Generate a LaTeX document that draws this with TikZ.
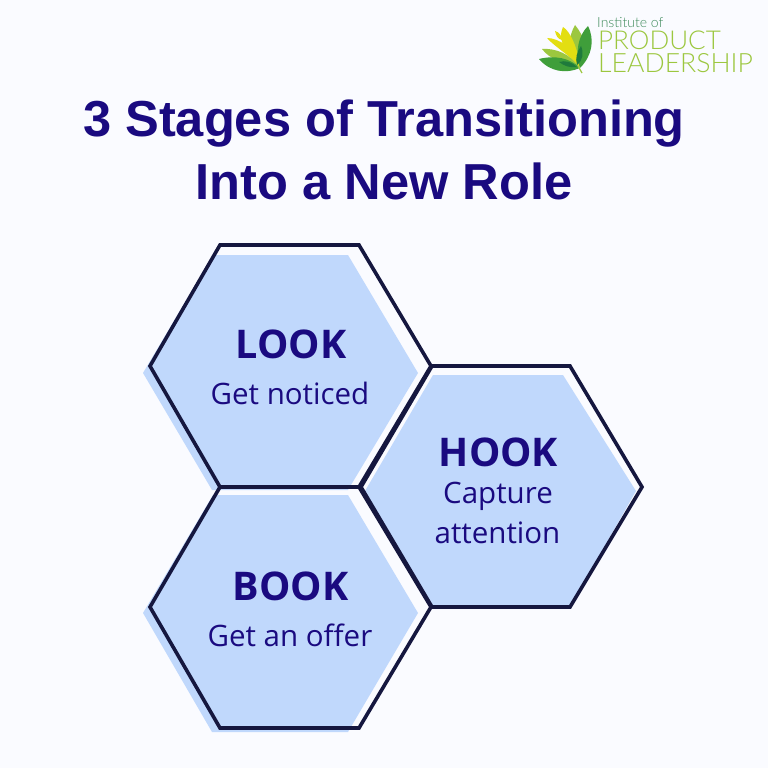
\documentclass[tikz,border=0pt]{standalone}
\usepackage{fontspec}
\setmainfont{Liberation Sans}
\newfontfamily\bodyf{Open Sans}
\newfontfamily\logof{Lato}[UprightFont=* Light]
\definecolor{bgc}{HTML}{FAFBFF}
\definecolor{fillc}{HTML}{C0D8FC}
\definecolor{linec}{HTML}{15173F}
\definecolor{titlec}{HTML}{1A0A80}
\definecolor{lg}{HTML}{9CC73F}
\definecolor{dg}{HTML}{3F9E3A}
\definecolor{ddg}{HTML}{1F7A3C}
\definecolor{yl}{HTML}{E3DE12}
\definecolor{tg}{HTML}{3D8A5A}
\tikzset{
  x=1pt,y=-1pt,
  hexfill/.style={fill=fillc,draw=none},
  hexline/.style={draw=linec,line width=3.6pt,line join=miter},
  titletext/.style={text=titlec,font=\fontsize{50.6}{50.6}\selectfont\bfseries,inner sep=0pt,anchor=base},
  headtext/.style={text=titlec,font=\bodyf\fontsize{39.5}{39.5}\selectfont\bfseries,inner sep=0pt,anchor=base},
  subtext/.style={text=titlec,font=\bodyf\fontsize{29.5}{29.5}\selectfont,inner sep=0pt,anchor=base},
}
\begin{document}
\begin{tikzpicture}
\useasboundingbox (0,0) rectangle (768,768);
\fill[bgc] (0,0) rectangle (768,768);
% fills
\fill[hexfill] (143,373)--(213,255)--(348,255)--(418,373)--(348,490)--(212,490)--cycle;
\fill[hexfill] (143,613)--(213,495)--(348,495)--(418,613)--(348,732)--(212,732)--cycle;
\fill[hexfill] (365,491)--(433,375)--(563,375)--(636,491)--(570,607)--(432,607)--cycle;
% outlines
\draw[hexline] (220,245)--(359,245)--(431,366)--(359,487)--(220,487)--(150,366)--cycle;
\draw[hexline] (220,487)--(359,487)--(431,607)--(359,728)--(220,728)--(150,607)--cycle;
\draw[hexline] (432,366)--(570,366)--(642,487)--(570,607)--(432,607)--(361,487)--cycle;
% title
\node[titletext] (t1) at (384,136) {3 Stages of Transitioning};
\node[titletext] (t2) at (384,199) {Into a New Role};
% labels
\node[headtext] (look) at (291,358.5) {LOOK};
\node[subtext] (looks) at (290,404) {Get noticed};
\node[headtext] (hook) at (498.5,466.5) {HOOK};
\node[subtext] (hooks1) at (498,503) {Capture};
\node[subtext] (hooks2) at (497.5,543) {attention};
\node[headtext] (book) at (290.5,600.5) {BOOK};
\node[subtext] (books) at (290,646) {Get an offer};
% logo
\fill[lg] (580,67) .. controls (566,52) and (568,38) .. (575,25) .. controls (584,36) and (590,50) .. (580,67) -- cycle;
\fill[yl] (580,67) .. controls (574,62) and (566,48) .. (562,42) .. controls (560,36) and (561,32) .. (563,27) .. controls (570,31) and (578,48) .. (580,67) -- cycle;
\fill[yl] (555,31) .. controls (559,32) and (562,36) .. (562,40) .. controls (558,39) and (556,36) .. (555,31) -- cycle;
\fill[yl] (579,67) .. controls (570,55) and (556,48) .. (547,38) .. controls (558,38) and (576,48) .. (579,67) -- cycle;
\fill[lg] (579,67) .. controls (566,64) and (550,60) .. (542,49) .. controls (556,48) and (570,54) .. (579,67) -- cycle;
\fill[dg] (588,26) .. controls (595,40) and (592,56) .. (580,68) .. controls (575,52) and (578,36) .. (588,26) -- cycle;
\fill[dg] (580,68) .. controls (566,74) and (550,72) .. (539,59) .. controls (555,55) and (570,58) .. (580,68) -- cycle;
\fill[ddg] (577,67) .. controls (570,68) and (564,66) .. (559,62) .. controls (565,60) and (572,62) .. (577,67) -- cycle;
\fill[ddg] (577,65) .. controls (575,58) and (577,52) .. (581,46) .. controls (584,53) and (583,60) .. (577,65) -- cycle;
\draw[lg,line width=1.2pt] (578,66) -- (582,73);
\node[text=tg,font=\logof\fontsize{14}{14}\selectfont,inner sep=0pt,anchor=base west] (l1) at (597,28) {Institute of};
\node[text=lg,font=\logof\fontsize{26}{26}\selectfont,inner sep=0pt,anchor=base west] (l2) at (598,50) {PRODUCT};
\node[text=lg,font=\logof\fontsize{26.6}{26.6}\selectfont,inner sep=0pt,anchor=base west] (l3) at (598,72) {LEADERSHIP};
\end{tikzpicture}
\end{document}
